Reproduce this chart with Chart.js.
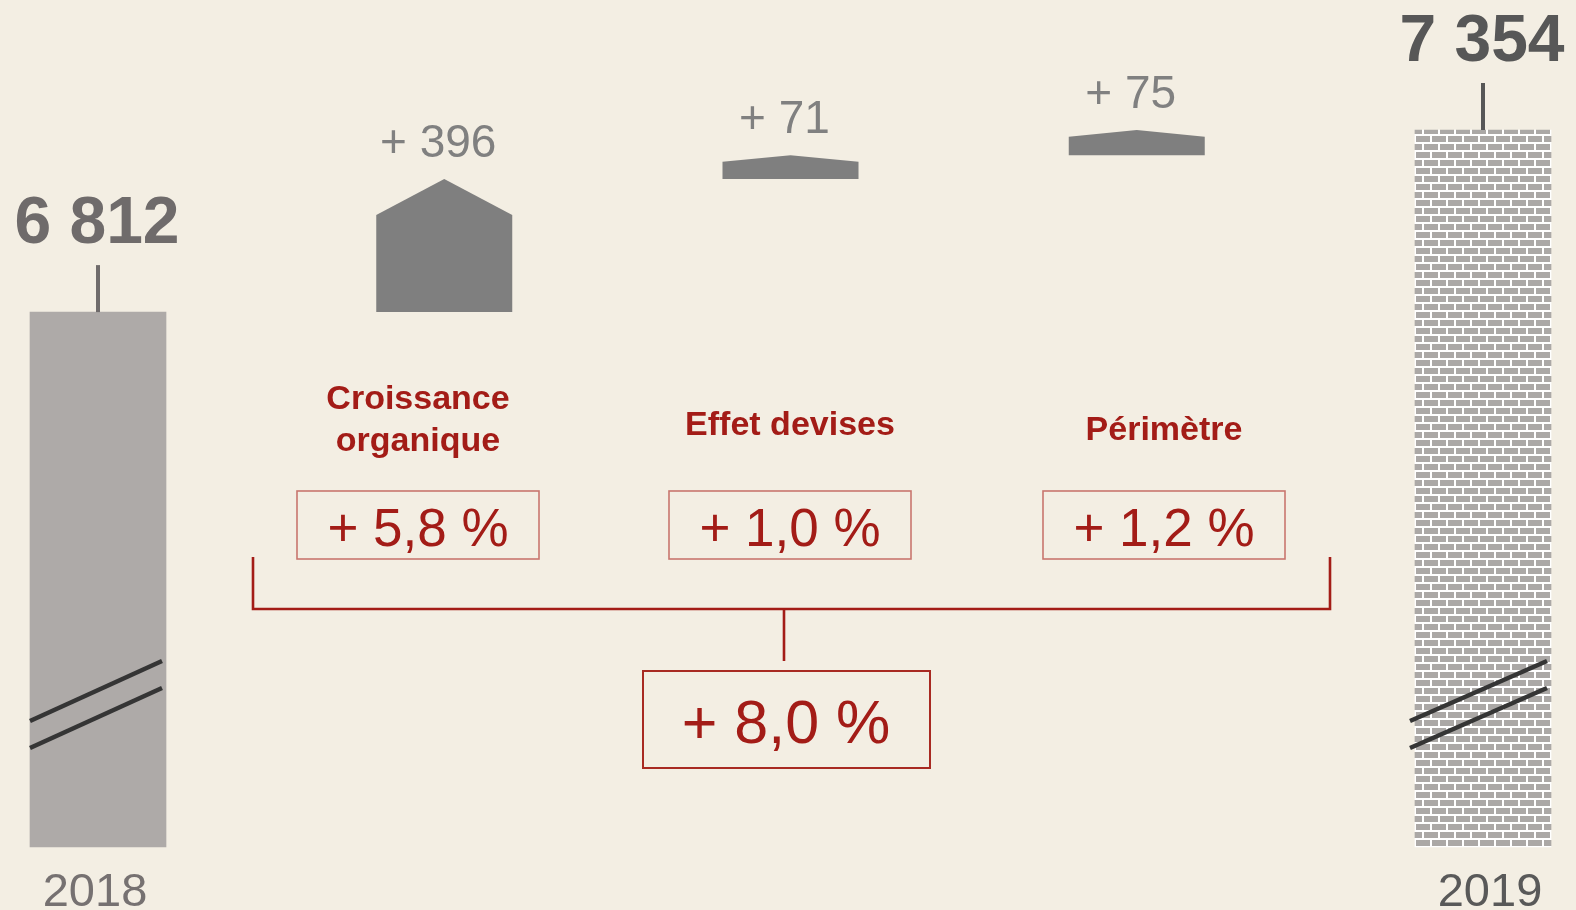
<!DOCTYPE html>
<html><head><meta charset="utf-8">
<script src="https://cdn.jsdelivr.net/npm/chart.js@4/dist/chart.umd.min.js"></script>
<style>html,body{margin:0;padding:0;background:#f3eee3;}canvas{display:block}</style>
</head><body>
<canvas id="c" width="1576" height="910"></canvas>
<script>
// ---- data ----
const categories = ['2018', 'Croissance organique', 'Effet devises', 'Périmètre', '2019'];
const yearLabels = ['2018', '', '', '', '2019'];
const categoryTitles = [['Croissance', 'organique'], ['Effet devises'], ['Périmètre']];
const startValue = 6812;
const variations = [396, 71, 75];
const endValue = 7354;
const valueLabels = ['6 812', '+ 396', '+ 71', '+ 75', '7 354'];
const growthLabels = ['+ 5,8 %', '+ 1,0 %', '+ 1,2 %'];
const totalGrowthLabel = '+ 8,0 %';
const axisBreakBase = 5220;   // visual base of the broken axis
const axisTop = 7354;

// ---- build floating bars ----
const barData = [];
barData.push([axisBreakBase, startValue]);
let running = startValue;
variations.forEach(v => { barData.push([running, running + v]); running += v; });
barData.push([axisBreakBase, endValue]);

// ---- styles ----
const BG = '#f3eee3';
const RED = '#a31c17';
const FONT = '"Liberation Sans", Arial, sans-serif';

function brickPattern() {
  const c = document.createElement('canvas');
  c.width = 16; c.height = 16;
  const g = c.getContext('2d');
  g.fillStyle = '#ffffff'; g.fillRect(0, 0, 16, 16);
  g.fillStyle = '#aba8a6';
  g.fillRect(0, 0, 14, 6);
  g.fillRect(8, 8, 8, 6);
  g.fillRect(0, 8, 6, 6);
  return g.createPattern(c, 'repeat');
}

const ctxMain = document.getElementById('c').getContext('2d');
const colors = ['#aeaaa8', 'rgba(0,0,0,0)', 'rgba(0,0,0,0)', 'rgba(0,0,0,0)', brickPattern()];

const overlay = {
  id: 'overlay',
  beforeDraw(chart) {
    const g = chart.ctx;
    g.save(); g.fillStyle = BG; g.fillRect(0, 0, chart.width, chart.height); g.restore();
  },
  afterDatasetsDraw(chart) {
    const g = chart.ctx;
    const ys = chart.scales.y;
    const meta = chart.getDatasetMeta(0);
    g.save();
    // increment "house" shapes
    meta.data.forEach((el, i) => {
      if (i === 0 || i === meta.data.length - 1) return;
      const p = el.getProps(['x', 'y', 'base', 'width'], true);
      const [s, e] = barData[i];
      const shoulder = ys.getPixelForValue(e - 0.27 * (e - s));
      const l = p.x - p.width / 2, r = p.x + p.width / 2;
      g.fillStyle = '#7f7f7f';
      g.beginPath();
      g.moveTo(l, p.base); g.lineTo(l, shoulder); g.lineTo(p.x, p.y);
      g.lineTo(r, shoulder); g.lineTo(r, p.base); g.closePath(); g.fill();
      // value label
      g.font = '46px ' + FONT; g.fillStyle = '#808080';
      g.textAlign = 'center'; g.textBaseline = 'alphabetic';
      g.fillText(valueLabels[i], p.x - 6, p.y - 22);
    });
    // totals: labels, ticks, axis breaks, years
    [0, meta.data.length - 1].forEach((i, k) => {
      const el = meta.data[i];
      const p = el.getProps(['x', 'y', 'base', 'width'], true);
      const col = k === 0 ? '#6f6b6b' : '#575757';
      g.strokeStyle = col; g.lineWidth = 4;
      g.beginPath(); g.moveTo(p.x, p.y - 47); g.lineTo(p.x, p.y); g.stroke();
      g.font = 'bold 66px ' + FONT; g.fillStyle = col;
      g.textAlign = 'center'; g.textBaseline = 'alphabetic';
      g.fillText(valueLabels[i], p.x - 1, p.y - 69);
      // break lines
      const l = p.x - p.width / 2 - (k === 0 ? 0 : 5), r = p.x + p.width / 2 - 4;
      g.strokeStyle = '#353535'; g.lineWidth = 4.5; g.lineCap = 'butt';
      [0, 27].forEach(d => {
        g.beginPath(); g.moveTo(l, p.base - 126 + d); g.lineTo(r, p.base - 186 + d); g.stroke();
      });
      // year
      g.font = '47px ' + FONT; g.fillStyle = k === 0 ? '#767171' : '#595959';
      g.fillText(yearLabels[i], p.x + (k === 0 ? -3 : 7), 906);
    });
    // category titles & growth boxes
    const annX = [418, 790, 1164];
    const titleY = [[409, 451], [435], [440]];
    g.textAlign = 'center'; g.textBaseline = 'alphabetic';
    categoryTitles.forEach((lines, j) => {
      g.font = 'bold 34px ' + FONT; g.fillStyle = RED;
      lines.forEach((t, n) => g.fillText(t, annX[j], titleY[j][n]));
      g.strokeStyle = '#c8766e'; g.lineWidth = 1.6;
      g.strokeRect(annX[j] - 121, 491, 242, 68);
      g.font = '53px ' + FONT; g.fillStyle = RED;
      g.fillText(growthLabels[j], annX[j], 546);
    });
    // bracket
    g.strokeStyle = RED; g.lineWidth = 2.6; g.lineCap = 'butt';
    g.beginPath();
    g.moveTo(253, 557); g.lineTo(253, 609); g.lineTo(1330, 609); g.lineTo(1330, 557);
    g.moveTo(784, 609); g.lineTo(784, 661);
    g.stroke();
    g.strokeStyle = '#a82a22'; g.lineWidth = 2;
    g.strokeRect(643, 671, 287, 97);
    g.font = '61px ' + FONT; g.fillStyle = RED;
    g.fillText(totalGrowthLabel, 786, 743);
    g.restore();
  }
};

new Chart(ctxMain, {
  type: 'bar',
  data: {
    labels: categories,
    datasets: [{
      data: barData,
      backgroundColor: colors,
      borderWidth: 0,
      barThickness: 136,
      clip: false
    }]
  },
  options: {
    responsive: false,
    animation: false,
    devicePixelRatio: 1,
    layout: { padding: { left: 98, right: 93, top: 130, bottom: 63 } },
    plugins: { legend: { display: false }, tooltip: { enabled: false } },
    scales: {
      x: { display: false, offset: false },
      y: { display: false, min: axisBreakBase, max: axisTop }
    }
  },
  plugins: [overlay]
});
</script>
</body></html>
